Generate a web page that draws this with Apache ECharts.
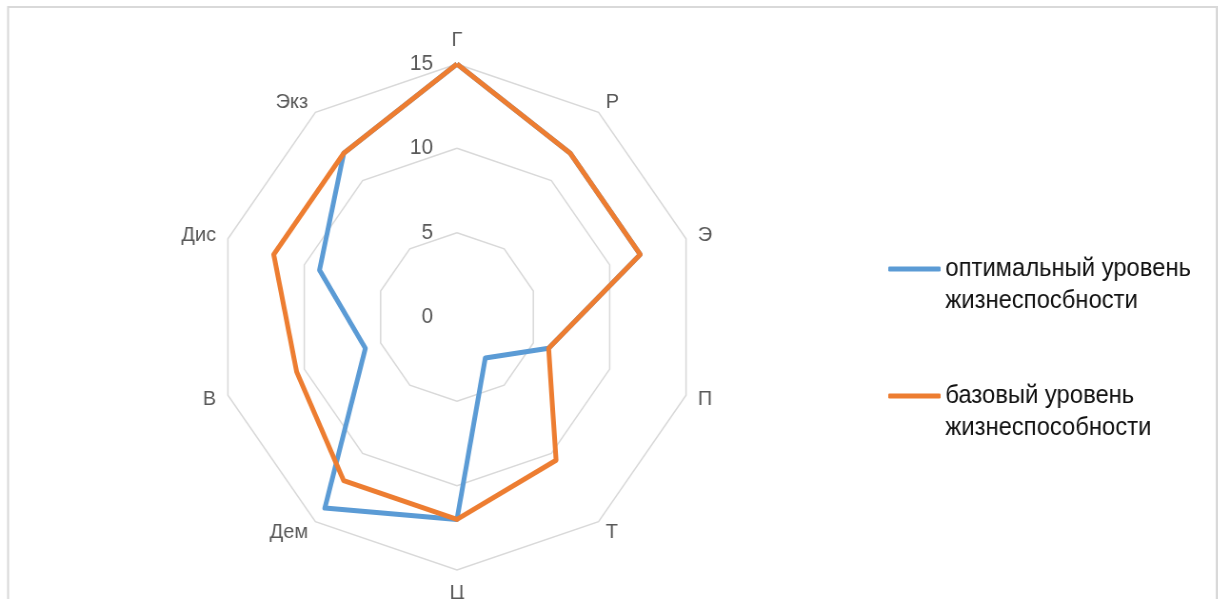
<!DOCTYPE html>
<html>
<head>
<meta charset="utf-8">
<script src="https://cdn.jsdelivr.net/npm/echarts@6/dist/echarts.min.js"></script>
<style>
  html, body { margin: 0; padding: 0; background: #fff; overflow: hidden; }
  /* исходная картинка немного сжата по горизонтали */
  #chart { width: 1279px; height: 599px; transform: scaleX(0.952); transform-origin: 0 0; }
</style>
</head>
<body>
<div id="chart"></div>
<script>
// оси (по часовой стрелке от верха)
const axes = ['Г', 'Р', 'Э', 'П', 'Т', 'Ц', 'Дем', 'В', 'Дис', 'Экз'];
const optimal = [15, 12, 12, 6, 3, 12, 14, 6, 9, 12];
const base = [15, 12, 12, 6, 10.5, 12, 12, 10.5, 12, 12];
const seriesNames = ['оптимальный уровень\nжизнеспосбности', 'базовый уровень\nжизнеспособности'];
const axisMax = 15;

const chart = echarts.init(document.getElementById('chart'));

const font = '"Liberation Sans", "DejaVu Sans", sans-serif';

// echarts рисует индикаторы против часовой — переставляем порядок
const order = axes.map((_, i) => (axes.length - i) % axes.length);

const indicator = order.map(i => {
    const ind = { name: axes[i], min: 0, max: axisMax };
    // подписи шкалы только на верхней оси
    if (i === 0) ind.axisLabel = { show: true };
    return ind;
});

const option = {
    animation: false,
    backgroundColor: '#fff',
    graphic: [{
        type: 'rect',
        shape: { x: 8.5, y: 7, width: 1269.5, height: 700 },
        style: { fill: 'none', stroke: '#d9d9d9', lineWidth: 2 },
        silent: true
    }],
    legend: {
        orient: 'vertical',
        left: 933,
        top: 221,
        padding: 0,
        itemWidth: 55,
        itemHeight: 5,
        itemGap: 31,
        icon: 'roundRect',
        data: seriesNames,
        formatter: name => '\n' + name,
        textStyle: {
            color: '#111',
            fontSize: 25,
            fontFamily: font,
            lineHeight: 32
        }
    },
    radar: {
        center: [480, 317],
        radius: 253,
        shape: 'polygon',
        splitNumber: 3,
        startAngle: 90,
        indicator: indicator,
        nameGap: 13,
        axisName: {
            color: '#595959',
            fontSize: 21,
            fontFamily: font
        },
        axisLine: { show: false },
        axisTick: { show: false },
        axisLabel: {
            show: false,
            color: '#595959',
            fontSize: 22,
            fontFamily: font,
            margin: 25
        },
        splitLine: { lineStyle: { color: '#d9d9d9', width: 1.5 } },
        splitArea: { show: false }
    },
    series: [{
        type: 'radar',
        symbol: 'none',
        data: [
            { name: seriesNames[0], value: order.map(i => optimal[i]),
              lineStyle: { color: '#5b9bd5', width: 5 }, itemStyle: { color: '#5b9bd5' } },
            { name: seriesNames[1], value: order.map(i => base[i]),
              lineStyle: { color: '#ed7d31', width: 5 }, itemStyle: { color: '#ed7d31' } }
        ]
    }]
};

chart.setOption(option);
</script>
</body>
</html>
